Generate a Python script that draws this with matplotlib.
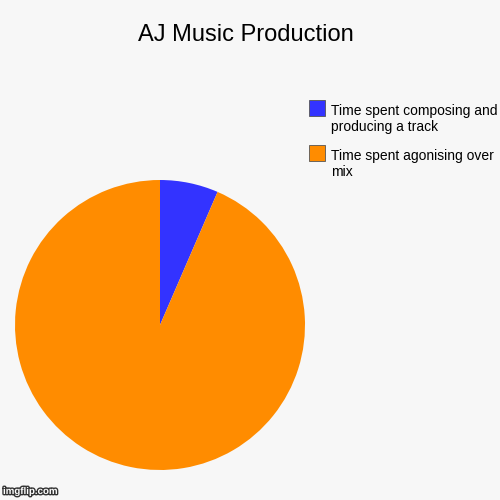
import matplotlib.pyplot as plt
import matplotlib.patheffects as pe
from matplotlib.patches import Rectangle

labels = ["Time spent composing and\nproducing a track", "Time spent agonising over\nmix"]
values = [6.5, 93.5]
colors = ["#3333ff", "#ff8c00"]

bg = "#f7f7f7"
plt.rcParams['font.family'] = ['Liberation Sans', 'DejaVu Sans']
fig = plt.figure(figsize=(5, 5), dpi=100, facecolor=bg)

ax = fig.add_axes([0.03, 0.06, 0.58, 0.58])
ax.set_facecolor(bg)
wedges, _ = ax.pie(values, colors=colors, startangle=90, counterclock=False,
                   wedgeprops=dict(linewidth=0))
ax.set_xlim(-1.0, 1.0)
ax.set_ylim(-1.0, 1.0)
ax.set_aspect('equal')

fig.text(0.492, 0.93, "AJ Music Production", ha='center', va='center', fontsize=17)

# legend drawn by hand so the box lines up with the first text line
for i, (lab, col) in enumerate(zip(labels, colors)):
    top = 100 + i * 45          # pixel row of the square top
    fig.patches.append(Rectangle((309 / 500, 1 - (top + 16) / 500), 16 / 500, 16 / 500,
                                 transform=fig.transFigure, facecolor=col,
                                 edgecolor='#555555', linewidth=0.6))
    for j, line in enumerate(lab.split("\n")):
        base = 115 + i * 45 + j * 15.5
        fig.text(331 / 500, 1 - base / 500, line, ha='left', va='baseline', fontsize=10)

fig.text(0.006, 0.012, "imgflip.com", fontsize=7, color='white', fontweight='bold',
         path_effects=[pe.withStroke(linewidth=2, foreground='#333333')])

fig.savefig("out.png", dpi=100, facecolor=bg)
